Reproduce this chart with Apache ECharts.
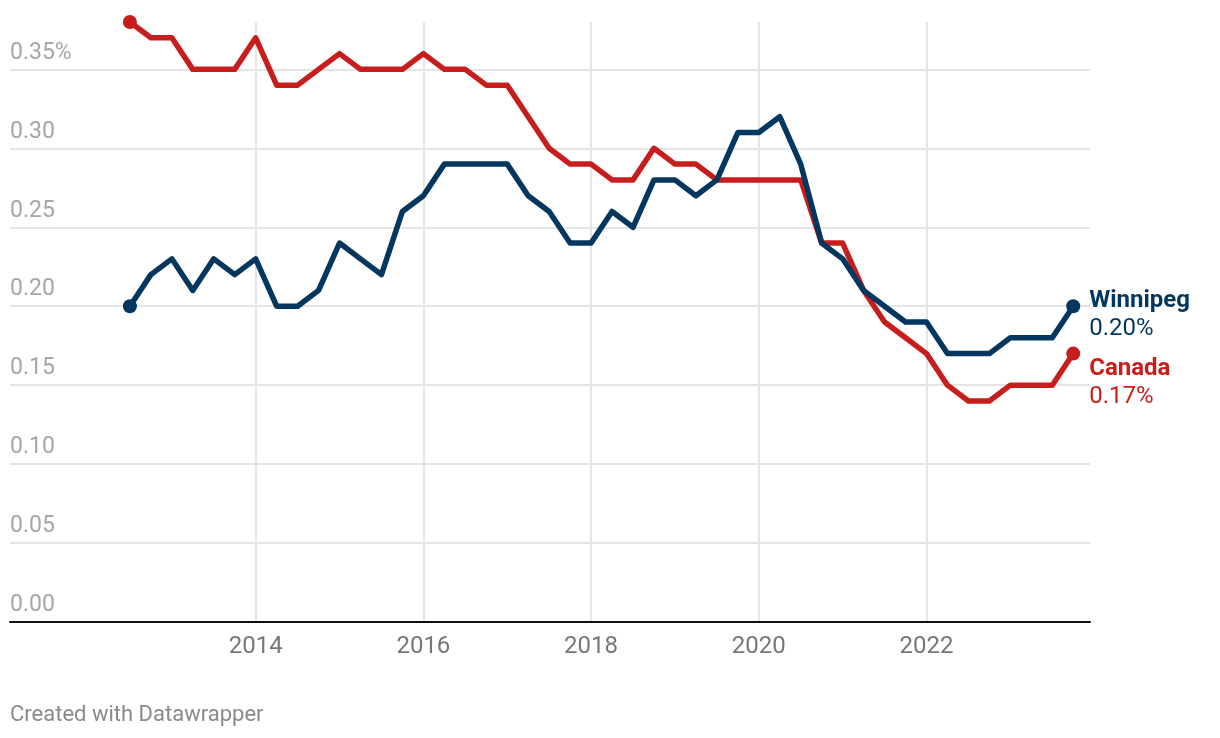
<!DOCTYPE html>
<html>
<head>
<meta charset="utf-8">
<script src="https://cdn.jsdelivr.net/npm/echarts@6/dist/echarts.min.js"></script>
<style>
html,body{margin:0;padding:0;background:#fff;}
#chart{width:1220px;height:738px;}
</style>
</head>
<body>
<div id="chart"></div>
<script>
// Quarterly observations, 2012 Q3 .. 2023 Q4
const quarters = [
  '2012 Q3','2012 Q4','2013 Q1','2013 Q2','2013 Q3','2013 Q4',
  '2014 Q1','2014 Q2','2014 Q3','2014 Q4','2015 Q1','2015 Q2','2015 Q3','2015 Q4',
  '2016 Q1','2016 Q2','2016 Q3','2016 Q4','2017 Q1','2017 Q2','2017 Q3','2017 Q4',
  '2018 Q1','2018 Q2','2018 Q3','2018 Q4','2019 Q1','2019 Q2','2019 Q3','2019 Q4',
  '2020 Q1','2020 Q2','2020 Q3','2020 Q4','2021 Q1','2021 Q2','2021 Q3','2021 Q4',
  '2022 Q1','2022 Q2','2022 Q3','2022 Q4','2023 Q1','2023 Q2','2023 Q3','2023 Q4'
];
const canada = [
  0.38,0.37,0.37,0.35,0.35,0.35,
  0.37,0.34,0.34,0.35,0.36,0.35,0.35,0.35,
  0.36,0.35,0.35,0.34,0.34,0.32,0.30,0.29,
  0.29,0.28,0.28,0.30,0.29,0.29,0.28,0.28,
  0.28,0.28,0.28,0.24,0.24,0.21,0.19,0.18,
  0.17,0.15,0.14,0.14,0.15,0.15,0.15,0.17
];
const winnipeg = [
  0.20,0.22,0.23,0.21,0.23,0.22,
  0.23,0.20,0.20,0.21,0.24,0.23,0.22,0.26,
  0.27,0.29,0.29,0.29,0.29,0.27,0.26,0.24,
  0.24,0.26,0.25,0.28,0.28,0.27,0.28,0.31,
  0.31,0.32,0.29,0.24,0.23,0.21,0.20,0.19,
  0.19,0.17,0.17,0.17,0.18,0.18,0.18,0.20
];
const yTicks = [0, 0.05, 0.10, 0.15, 0.20, 0.25, 0.30, 0.35];
const xTicks = [2014, 2016, 2018, 2020, 2022];

function qToYear(q) {
  const parts = q.split(' Q');
  return Number(parts[0]) + (Number(parts[1]) - 1) / 4;
}
const xs = quarters.map(qToYear);
const canadaData = xs.map((x, i) => [x, canada[i]]);
const winnipegData = xs.map((x, i) => [x, winnipeg[i]]);
const last = quarters.length - 1;

const RED = '#c71e1d';
const NAVY = '#03375f';
const FONT = 'Roboto, "Noto Sans", sans-serif';

const chart = echarts.init(document.getElementById('chart'), null, {renderer: 'canvas'});
const dotSize = (v, p) => (p.dataIndex === 0 || p.dataIndex === last) ? 14 : 0;

chart.setOption({
  animation: false,
  backgroundColor: '#ffffff',
  textStyle: {fontFamily: FONT},
  title: {
    text: 'Created with Datawrapper',
    left: 10, top: 704, padding: 0,
    textStyle: {fontFamily: FONT, fontSize: 22, fontWeight: 'normal', color: '#8a8a8a'}
  },
  grid: {left: 10, right: 130, top: 22, bottom: 116, containLabel: false},
  xAxis: {
    type: 'value',
    min: 2011.07, max: 2023.95,
    axisLine: {show: true, onZero: false, lineStyle: {color: '#111', width: 2}},
    axisTick: {show: false, customValues: xTicks},
    axisLabel: {
      customValues: xTicks,
      fontFamily: FONT, fontSize: 24, color: '#777', margin: 13,
      formatter: v => String(Math.round(v))
    },
    splitLine: {show: true, lineStyle: {color: '#e5e5e5', width: 2}}
  },
  yAxis: {
    type: 'value',
    min: 0, max: 0.38,
    axisLine: {show: false},
    axisTick: {show: false, customValues: yTicks},
    axisLabel: {
      customValues: yTicks,
      inside: true, margin: 0,
      align: 'left', verticalAlign: 'bottom',
      padding: [0, 0, 5, 0],
      fontFamily: FONT, fontSize: 23, color: '#a6a6a6',
      formatter: v => Math.abs(v - 0.35) < 1e-9 ? v.toFixed(2) + '%' : v.toFixed(2)
    },
    splitLine: {show: true, lineStyle: {color: '#e5e5e5', width: 2}}
  },
  series: [
    {
      name: 'Canada',
      type: 'line',
      data: canadaData,
      clip: false,
      symbol: 'circle',
      symbolSize: dotSize,
      showAllSymbol: true,
      itemStyle: {color: RED},
      lineStyle: {color: RED, width: 5.5, join: 'round'},
      endLabel: {
        show: true,
        distance: 16,
        offset: [0, 29],
        formatter: p => '{n|Canada}\n{v|' + p.value[1].toFixed(2) + '%}',
        rich: {
          n: {fontFamily: FONT, fontSize: 24, fontWeight: 'bold', color: RED, lineHeight: 28},
          v: {fontFamily: FONT, fontSize: 24, color: RED, lineHeight: 28}
        }
      },
      z: 2
    },
    {
      name: 'Winnipeg',
      type: 'line',
      data: winnipegData,
      clip: false,
      symbol: 'circle',
      symbolSize: dotSize,
      showAllSymbol: true,
      itemStyle: {color: NAVY},
      lineStyle: {color: NAVY, width: 5.5, join: 'round'},
      endLabel: {
        show: true,
        distance: 16,
        offset: [0, 9],
        formatter: p => '{n|Winnipeg}\n{v|' + p.value[1].toFixed(2) + '%}',
        rich: {
          n: {fontFamily: FONT, fontSize: 24, fontWeight: 'bold', color: NAVY, lineHeight: 28},
          v: {fontFamily: FONT, fontSize: 24, color: NAVY, lineHeight: 28}
        }
      },
      z: 3
    }
  ]
});
</script>
</body>
</html>
